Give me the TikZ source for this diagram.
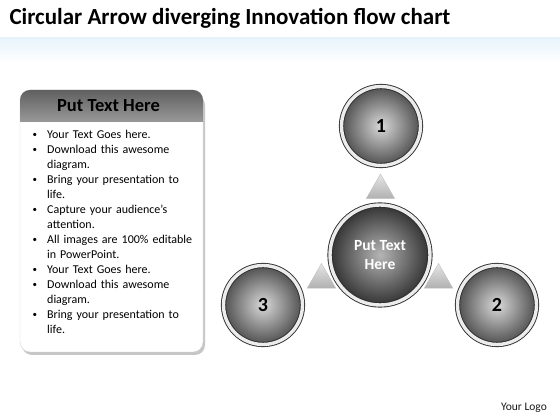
\documentclass[tikz,border=0pt]{standalone}
\usepackage{fontspec}
\setmainfont{Carlito}
\usepackage{enumitem}
\usetikzlibrary{shapes.geometric, calc, positioning, backgrounds}

\definecolor{bgblue}{RGB}{214,236,250}
\pgfdeclarehorizontalshading{bgshade}{100bp}{color(0bp)=(bgblue); color(22bp)=(white);
    color(75bp)=(white); color(100bp)=(bgblue)}
\tikzset{
  ball/.style={circle, minimum size=79pt, inner sep=0pt, draw=gray!35!black, line width=0.9pt,
    double=gray!15, double distance=3.4pt, inner color=gray!30, outer color=gray!62!black,
    font=\bfseries\fontsize{20}{20}\selectfont},
  hubball/.style={ball, minimum size=100pt, inner color=gray!58, outer color=gray!40!black,
    text=white, align=center, font=\bfseries\fontsize{15.5}{19}\selectfont},
  wedge/.style={regular polygon, regular polygon sides=3, minimum size=33pt, inner sep=0pt,
    top color=gray!20, bottom color=gray!62, draw=gray!50},
}

\begin{document}
\begin{tikzpicture}[x=1pt,y=1pt]
    % Background
    \useasboundingbox (0,0) rectangle (560,420);
    \begin{scope}[on background layer]
        \fill[white] (0,0) rectangle (560,420);
        \shade[shading=bgshade] (0,0) rectangle (560,382);
        \shade[top color=bgblue!80, bottom color=white, opacity=0.7] (0,358) rectangle (560,382);
    \end{scope}
    % Title
    \node[anchor=west, font=\bfseries\fontsize{23}{27}\selectfont] (title) at (6,402)
        {Circular Arrow diverging Innovation flow chart};
    % Left panel
    \fill[gray!45, rounded corners=10pt] (22,65) rectangle (205,325);
    \filldraw[fill=white, draw=gray!35, rounded corners=10pt] (20,68) rectangle (203,330);
    \shade[top color=gray!75!black, bottom color=gray!80] (20,298) [rounded corners=10pt]
        -- (20,330) -- (203,330) [sharp corners] -- (203,298) -- cycle;
    \node[font=\bfseries\fontsize{18.5}{22}\selectfont] (head) at (108.5,314) {Put Text Here};
    \node[anchor=north west, inner sep=0pt, text width=168pt, font=\fontsize{12}{15}\selectfont] (list) at (32,297) {
        \begin{itemize}[leftmargin=15pt, labelsep=10pt, itemsep=0pt, topsep=0pt, parsep=0pt, partopsep=0pt,
            label=\raisebox{0.5pt}{\fontsize{9}{9}\selectfont\textbullet}]
            \item Your Text Goes here.
            \item Download this awesome\\diagram.
            \item Bring your presentation to\\life.
            \item Capture your audience’s\\attention.
            \item All images are 100\% editable\\in PowerPoint.
            \item Your Text Goes here.
            \item Download this awesome\\diagram.
            \item Bring your presentation to\\life.
        \end{itemize}};
    % Circles
    \node[hubball] (hub) at (380,165) {Put Text\\Here};
    \node[ball] (n1) at (381,294) {1};
    \node[ball] (n2) at (497,115) {2};
    \node[ball] (n3) at (263,115) {3};
    % Arrow heads
    \begin{scope}[on background layer]
        \node[wedge] (a1) at ($(hub)!0.5!(n1)$) {};
        \node[wedge] (a2) at ($(hub)!0.5!(n2)$) {};
        \node[wedge] (a3) at ($(hub)!0.5!(n3)$) {};
    \end{scope}
    % Logo
    \node[font=\fontsize{11.5}{13}\selectfont, text=gray!20!black] (logo) at (524,12) {Your Logo};
\end{tikzpicture}
\end{document}
